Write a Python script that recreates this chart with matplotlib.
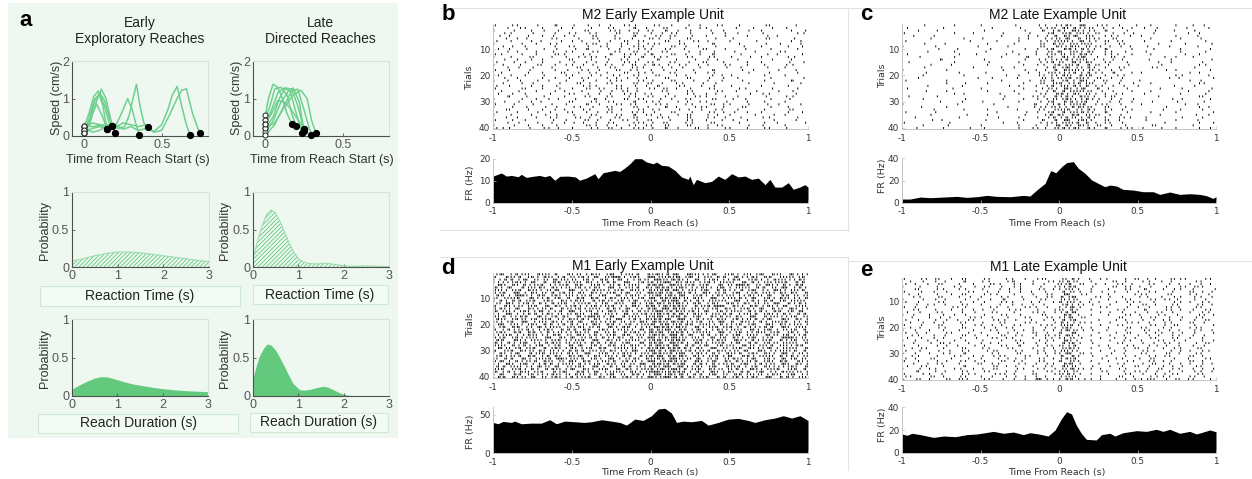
import numpy as np
import matplotlib
matplotlib.use('Agg')
import matplotlib.pyplot as plt
from matplotlib.patches import Rectangle
from matplotlib.lines import Line2D

# ---------------- data ----------------
# panel a : example speed traces (time s, speed cm/s)
early_t = [
    [0, 0.03, 0.06, 0.09, 0.12, 0.146],
    [0, 0.03, 0.06, 0.10, 0.13, 0.16, 0.18],
    [0, 0.04, 0.08, 0.11, 0.14, 0.17, 0.196],
    [0, 0.05, 0.10, 0.15, 0.20, 0.24, 0.28, 0.31, 0.335, 0.354],
    [0, 0.06, 0.12, 0.18, 0.22, 0.26, 0.29, 0.315, 0.337, 0.36, 0.385, 0.41],
    [0, 0.05, 0.10, 0.15, 0.20, 0.25, 0.30, 0.35, 0.40, 0.45, 0.50, 0.54, 0.57, 0.60, 0.63, 0.66, 0.685],
    [0, 0.05, 0.10, 0.15, 0.20, 0.25, 0.30, 0.35, 0.40, 0.45, 0.50, 0.55, 0.60, 0.63, 0.66, 0.70, 0.746],
    [0, 0.04, 0.07, 0.10, 0.13, 0.16, 0.18],
    [0, 0.04, 0.08, 0.12, 0.146],
]
early_s = [
    [0.25, 0.60, 1.05, 1.20, 0.80, 0.18],
    [0.17, 0.45, 0.90, 1.15, 0.95, 0.50, 0.26],
    [0.08, 0.40, 0.95, 1.25, 1.00, 0.45, 0.08],
    [0.17, 0.35, 0.30, 0.20, 0.25, 0.60, 1.00, 0.70, 0.30, 0.04],
    [0.26, 0.25, 0.30, 0.28, 0.20, 0.25, 0.55, 1.00, 1.38, 0.80, 0.35, 0.23],
    [0.08, 0.20, 0.25, 0.20, 0.30, 0.18, 0.25, 0.15, 0.20, 0.12, 0.30, 0.70, 1.10, 1.32, 0.80, 0.30, 0.02],
    [0.26, 0.10, 0.15, 0.30, 0.22, 0.35, 0.30, 0.25, 0.30, 0.10, 0.15, 0.55, 1.00, 1.22, 1.26, 0.60, 0.07],
    [0.17, 0.50, 1.00, 1.12, 0.80, 0.35, 0.26],
    [0.08, 0.50, 0.85, 0.50, 0.18],
]
late_t = [
    [0, 0.02, 0.05, 0.08, 0.11, 0.14, 0.17],
    [0, 0.03, 0.06, 0.10, 0.14, 0.17, 0.20],
    [0, 0.04, 0.08, 0.12, 0.16, 0.20, 0.237],
    [0, 0.05, 0.09, 0.13, 0.17, 0.21, 0.248],
    [0, 0.05, 0.10, 0.15, 0.18, 0.22, 0.25],
    [0, 0.06, 0.12, 0.17, 0.21, 0.25, 0.296],
    [0, 0.06, 0.12, 0.18, 0.23, 0.27, 0.30, 0.328],
    [0, 0.04, 0.08, 0.12, 0.16, 0.20, 0.25],
]
late_s = [
    [0.55, 1.00, 1.38, 1.30, 1.00, 0.60, 0.33],
    [0.44, 0.80, 1.25, 1.30, 1.10, 0.60, 0.27],
    [0.33, 0.70, 1.15, 1.28, 1.20, 0.60, 0.09],
    [0.22, 0.50, 1.00, 1.28, 1.25, 0.80, 0.20],
    [0.11, 0.40, 0.90, 1.20, 1.28, 0.90, 0.13],
    [0.02, 0.30, 0.80, 1.20, 1.25, 0.70, 0.04],
    [0.22, 0.35, 0.75, 1.10, 1.22, 1.00, 0.40, 0.07],
    [0.33, 0.60, 0.95, 0.90, 0.75, 0.50, 0.20],
]

# panel a : distributions
rt_early_x = [0, 0.25, 0.5, 0.75, 1, 1.25, 1.5, 1.75, 2, 2.25, 2.5, 2.75, 3]
rt_early_y = [0.08, 0.11, 0.15, 0.18, 0.20, 0.20, 0.19, 0.17, 0.15, 0.13, 0.11, 0.09, 0.07]
rt_late_x = [0, 0.1, 0.2, 0.3, 0.4, 0.5, 0.6, 0.7, 0.8, 0.9, 1.0, 1.1, 1.2, 1.4, 1.6, 1.8, 2.0, 2.2, 2.5, 3.0]
rt_late_y = [0.10, 0.35, 0.55, 0.70, 0.76, 0.72, 0.60, 0.46, 0.32, 0.20, 0.11, 0.07, 0.05, 0.04, 0.05, 0.035, 0.015, 0.01, 0.015, 0.005]
dur_early_x = [0, 0.15, 0.32, 0.5, 0.65, 0.8, 0.98, 1.15, 1.35, 1.6, 1.8, 2.0, 2.24, 2.6, 3.0]
dur_early_y = [0.08, 0.13, 0.18, 0.225, 0.245, 0.24, 0.21, 0.18, 0.15, 0.125, 0.105, 0.09, 0.075, 0.06, 0.05]
dur_late_x = [0, 0.08, 0.15, 0.25, 0.33, 0.42, 0.52, 0.62, 0.7, 0.8, 0.89, 1.04, 1.15, 1.26, 1.4, 1.55, 1.65, 1.77, 1.9, 1.99, 2.1, 2.2, 3.0]
dur_late_y = [0.20, 0.38, 0.51, 0.62, 0.67, 0.65, 0.58, 0.47, 0.38, 0.26, 0.16, 0.074, 0.07, 0.08, 0.10, 0.12, 0.11, 0.08, 0.04, 0.02, 0.005, 0, 0]

# PSTH (time s, firing rate Hz)
psth_b_t = [-1, -0.947, -0.915, -0.883, -0.84, -0.82, -0.789, -0.746, -0.704, -0.672, -0.64, -0.608, -0.576, -0.523, -0.477, -0.45, -0.407, -0.354, -0.333, -0.301, -0.227, -0.195, -0.163, -0.131, -0.1, -0.057, -0.025, 0.017, 0.038, 0.07, 0.112, 0.155, 0.197, 0.239, 0.25, 0.271, 0.292, 0.345, 0.388, 0.43, 0.472, 0.515, 0.557, 0.6, 0.642, 0.684, 0.727, 0.758, 0.79, 0.833, 0.875, 0.906, 0.948, 0.98, 1.0]
psth_b_v = [12.1, 13.5, 12.1, 12.4, 11.8, 12.9, 11.5, 12.0, 12.4, 11.8, 12.4, 10.2, 12.0, 12.1, 11.7, 10.2, 11.2, 13.2, 10.9, 13.6, 14.7, 14.2, 15.8, 17.7, 20.0, 20.0, 18.5, 17.7, 18.5, 17.0, 16.7, 14.7, 11.7, 10.6, 12.1, 8.2, 10.6, 9.1, 9.7, 12.1, 10.6, 13.2, 11.7, 12.1, 10.6, 11.2, 8.2, 10.6, 7.1, 7.1, 9.1, 6.1, 7.1, 8.2, 7.1]
psth_c_t = [-1, -0.947, -0.883, -0.82, -0.735, -0.65, -0.587, -0.523, -0.46, -0.396, -0.31, -0.227, -0.185, -0.142, -0.089, -0.053, -0.02, 0.017, 0.049, 0.091, 0.123, 0.165, 0.208, 0.25, 0.292, 0.324, 0.366, 0.408, 0.472, 0.536, 0.6, 0.642, 0.705, 0.769, 0.833, 0.896, 0.939, 0.98, 1.0]
psth_c_v = [3.3, 3.3, 5.1, 4.5, 5.1, 5.7, 4.8, 5.4, 6.6, 5.7, 5.4, 6.6, 6.0, 11.4, 17.4, 28.9, 27.0, 32.5, 36.1, 37.0, 31.0, 26.5, 20.5, 17.4, 14.4, 15.9, 15.0, 12.0, 11.4, 9.9, 9.9, 7.5, 9.6, 7.5, 8.1, 7.5, 6.3, 3.9, 5.4]
psth_d_t = [-1, -0.968, -0.936, -0.883, -0.862, -0.82, -0.757, -0.693, -0.64, -0.598, -0.545, -0.481, -0.418, -0.375, -0.31, -0.248, -0.195, -0.153, -0.1, -0.047, 0.006, 0.049, 0.091, 0.133, 0.165, 0.208, 0.26, 0.324, 0.366, 0.43, 0.494, 0.557, 0.62, 0.663, 0.726, 0.79, 0.843, 0.896, 0.949, 1.0]
psth_d_v = [40.0, 38.3, 41.3, 40.0, 41.7, 38.3, 39.1, 39.1, 43.5, 38.3, 41.7, 40.9, 40.0, 40.9, 43.5, 41.7, 40.0, 36.5, 44.3, 42.6, 48.7, 57.4, 58.3, 52.2, 40.0, 41.7, 40.9, 42.6, 36.5, 40.0, 44.3, 45.2, 42.6, 40.0, 43.5, 45.7, 48.7, 45.7, 48.7, 42.6]
psth_e_t = [-1, -0.968, -0.936, -0.883, -0.8, -0.735, -0.66, -0.587, -0.523, -0.47, -0.418, -0.354, -0.29, -0.227, -0.185, -0.13, -0.07, -0.025, 0.017, 0.049, 0.08, 0.11, 0.142, 0.174, 0.237, 0.271, 0.324, 0.356, 0.408, 0.494, 0.557, 0.62, 0.663, 0.705, 0.769, 0.833, 0.875, 0.918, 0.96, 1.0]
psth_e_v = [16.5, 15.3, 17.1, 15.9, 13.5, 14.7, 14.1, 15.9, 16.5, 17.6, 18.8, 17.1, 18.2, 15.9, 17.6, 16.5, 14.7, 20.0, 30.3, 36.2, 34.1, 24.4, 17.1, 11.8, 11.2, 15.9, 17.1, 14.7, 17.6, 19.4, 18.8, 20.6, 18.8, 20.6, 17.1, 18.8, 16.5, 18.2, 20.0, 18.5]

# Spike rasters: one string per trial; each character is a 50 ms segment
# (base-32 digit = bit mask of spikes in five 10 ms sub-bins), groups of 10 segments.
raster_b = [
    "2041080g10 2014g08210 4180g02041 0200810040",
    "0g04102080 1040820g14 0810402100 g001040200",
    "1080g04020 0810g41248 2g14010802 0040100g08",
    "0420010g08 4021081g20 1482010g04 0100200084",
    "g010402801 2081040g12 8241020104 0020g01000",
    "0801200410 g08204180g 2140810020 4000810020",
    "4020g01080 1204g08141 0g28041200 1004000g01",
    "1008040210 0g81402148 4108200g10 0200804001",
    "0240100g08 2018402g41 2081401020 0g00100402",
    "8010204010 4g10801242 1g40208104 0010020080",
    "0g01040802 1082041g28 0410g02010 8002004100",
    "2108040g21 0420g18412 3081402g10 0400g01002",
    "1020810402 g8412082g1 4210820410 2080100420",
    "0401g02008 1040802140 g102080240 0100040g00",
    "4080102040 2g01408218 2041g08102 0020100804",
    "1204081g02 1480214812 6128401204 1020400210",
    "0g02010400 8102g40821 0480102008 0400g00100",
    "2010800g04 0214081420 1802040g10 0801002040",
    "0100402081 g021408142 2041080210 0040010080",
    "8020104002 1048021g40 8102400g01 2000400100",
    "0401002g08 0210480124 0g20810402 0100020004",
    "1g04080102 0401g82041 2081040201 0800400g10",
    "0208010040 8120410g28 1402108020 0040080001",
    "4010g02010 0421082014 g108204010 2000100400",
    "2008102040 1g2418212g 4812010410 0210040080",
    "0102040g01 0208014120 0410820041 g004002010",
    "8040100208 2014g08412 1020840120 0080210040",
    "0g10204001 0820410218 2g01082104 0100800210",
    "1008040120 40g1208141 0280410g20 4010020800",
    "0402g01008 1041820g14 2104802108 0020400100",
    "2080010402 0g14082410 8210420812 1040g02001",
    "1040208010 2180410g28 0g12084102 0810020400",
    "0810402g01 0420812041 2108g04021 0100400810",
    "4001080204 1g02410821 4081020412 8020100402",
    "1020g08010 2041082g14 1204810240 1002080100",
    "0801040210 4128041g20 g420810214 0400210080",
    "2040100802 0812g04128 1040820101 4020080040",
    "0g02080401 2401820g41 2810420810 0200401008",
    "1080402010 0g21480214 1g20810241 0040200100",
    "4210804120 1042812g41 2g14081204 1020410200",
]
raster_c = [
    "00g0008000 1000400428 i5o3g4180g 0800g00140",
    "8000020000 0400010845 ch9i28g012 g040002001",
    "0010400000 4000080g1i 9o5h4g1080 0020800200",
    "2000008001 00g0002083 k6a981g024 0010004g00",
    "0400100000 008000124c oi3k2g8401 4000g00800",
    "0008000g00 2000g01029 h3ck41g200 0800040010",
    "4000000080 0010g0084k a9oh8g2410 g000200080",
    "00g0040000 g000200816 5kia1g0820 0080001004",
    "1000200008 000400081o ic5k824g01 0200100800",
    "0000800100 0200080243 o6h94g1002 0010040002",
    "0002008000 800010018h 3kio2g8040 0100040080",
    "8000000204 0002g00145 ako61g8402 0800001g00",
    "0020008000 00800g1081 chk3g08120 0004g00100",
    "0000g10000 4000080429 i9a548g010 0400200004",
    "g000008000 0100g00843 5o9c1g4080 0080200020",
    "0008002000 g00004021k ha6o8120g0 0001000g80",
    "00g0000001 0080200046 k3io4g0820 0g40000200",
    "1000080000 00g008012c oa5h218g00 0008g00002",
    "0001000200 8000001485 9iho84g102 4000008g00",
    "0080000g00 0002g00419 c5ok1g0420 0000g80001",
    "0010000008 0400800g2h i6a9g28010 0000120008",
    "4000080000 0080002813 kho5481g00 2000008010",
    "0000080010 g00004081a 3ick2g0804 0800000g40",
    "0002000800 0008g00143 ah9c84g020 1000800200",
    "8000004000 1000040g89 o5i3g12080 00g0080004",
    "0001080000 g000200146 cka914g002 0800004001",
    "0000008g00 0040g0082o 6h5k8g0210 g000040080",
    "g000400000 000100821c i9oa4g8100 0080000g20",
    "0080000010 00g004024a k5hc218g04 0000480002",
    "0000g00800 2000g00883 oci6g04802 0g00010040",
    "1000000100 080000g14i 9ka3841g00 4000001800",
    "0040080000 000400g825 hoc91g2040 0008000g01",
    "0000100g00 g00080041k a3io4g8012 0002040020",
    "4000200000 00100g0283 cki92g1080 0800g00008",
    "0008000020 g0000800ih 5o6k814g00 00g0000401",
    "0800000200 0020g00286 i9ho4g0821 0100080020",
    "000g010000 8000040g1c o3k51g2800 0100g00800",
    "2000001000 00g0800849 ka6c8g4010 0004000g08",
    "00800g0000 1000g0014o h5c9g28040 0g20000100",
    "0g00020080 4000g0822k ci5o4g1g82 8001g00g02",
]
raster_d = [
    "k3i95oah1c 9hc5k3ia6o q5j7ob9i3k 6hak3c5o9i",
    "3oa6k9c5ih i6h3av9k5o 7lmek3hac6 o9i5c3kah6",
    "hc6i3ako95 5k9o6i3hca sbpd9ohk5i c3k6hoa9i5",
    "9ik5h3co6a ah5ic6o3k9 jq7mc5i6ha 5oh9kia3c6",
    "o5ch9a3ik6 c3k6hi9a5o e7slk6a3oh iv6ko5h9c3",
    "6h3oki5c9a k9i5o3ha6c pdbq5ic9k3 ha5c6ko3i9",
    "a9k6c5hi3o 3ioa9k6c5h lmj7hak3c6 9ck3io5ha6",
    "i6o3h5ack9 h5c9k6i3ao b7dsi9o5a6 k3i6a9ch5o",
    "c3hvio6k5a 9a6k3ohc5i qjep3k6hc9 5ic9h3o6ak",
    "5ka3o9ih6c o6c3i5a9kh 7mlbac5o3i a6h3k9c5io",
    "h9c6a3k5oi c5ok9h6i3a dsq76h9ka5 o3i9c6kha5",
    "ko5i6h9ca3 ia3h6c5o9k jbme9c3i5o 6h5ako3ci9",
    "3c9ak6oh5i 6hk9a3io5c 7pld5ok6v3 c9o6i5h3ka",
    "i5h3c9a6ok k9a5c6h3io esjb3a9i6c 9k6h3cao5i",
    "6a9k5i3hco 3h6io5k9ca q7dmi6h3k9 a5ci9o6kh3",
    "9o3hc6i5ak c5k3a9ohi6 lbjp9c5ha6 3ia6k5h9oc",
    "a6ic3o9kh5 o9v6h3ca5k m7qe6k3oi9 h5o3ca9i6k",
    "c5k9h6a3io a6h5ko3i9c dj7s3h9ac5 k9a6i3o5ch",
    "5h6o3iac9k h3c9i6ako5 ebpl9i6ko3 6c5h9ka3io",
    "o3a9k5c6ih 9ko5c3h6ia 7mjqc3a5h9 i6k3o5c9ah",
    "h6c3io9a5k i5a6o9c3hk sdbe5o9k6a 3h9ic6o5ka",
    "3i9a6hk5oc 6c3k5ia9oh jl7p6i3hc9 a5o9k3hi6c",
    "k5o6c3h9ai c9h3a6ok5i b7qm9ka5o3 h6ic5a3k9o",
    "9a3hc5io6k o5i9k6c3ah edsjh3c6i9 k3a5o9h6ic",
    "i6k9a5o3ch 3a6h9i5cko 7lpb5a9oh6 c9k3i6ov5a",
    "c3o5ha9k6i k6o3c9ha5i mjqe3k6ic5 o5h9a3ci6k",
    "6h9k3ioc5a a9c6i5k3oh d7sl9o5ha3 i3c6k9ha5o",
    "a5ci9k3h6o h3k9o6ac5i pbj7c6i3k9 5o9ha6kic3",
    "o9h6a3ck5i 5i6c3ka9ho qemd6h5o3a k6c9i3ha5o",
    "3k6c9h5aio c6a9h5io3k 7jslk9a6c5 9h3o5ika6c",
    "h5i3ok6a9c 9o3k6ic5ha ebdq3i5h9o a6k5c9o3hi",
    "k9a6c3ih5o i3h5a9c6ok j7mp5c9k6i 3o6ha5ci9k",
    "5c6o9ka3vi a6k9o3hi5c ldsb9h3a6k c5i3k9oh6a",
    "i3h9a6c5ko 5c3ia6k9ho 7qej6o5i3c h9a6k5c3oi",
    "9o5k3hc6ia h9i6c5ako3 mbjl3c6h9a 6k3i9ao5ch",
    "c6a5io9h3k k5o3h9c6ai dp7s9i5k3o a3h6c9ik5o",
    "a3k6h9oc5i 3c9k6oh5ia jeqb6a3c9h i9o5ha3k6c",
    "6i9c5a3ok3 o6h3ia5c9k vlmd3h9o5i 5c6k3ioa9h",
    "h3o6k9ic5a c5i9k3ao6h sjep9c6k3a o6a9hc5k3i",
    "o6c9h3ak5i 9a3ch6k5io bq7jh5a3c6 k9i5o3c6ha",
]
raster_e = [
    "2041a02810 4102180i20 ko4g021048 1220a41082",
    "0180240g10 2104308082 5j2010g240 8401200410",
    "4802810201 0a4021801g i6818g0412 0410128012",
    "1020408402 4180210804 9m1020g241 2808041a20",
    "0810420210 2048010412 ha40102041 g10284010g",
    "2040180041 g028014020 ck80140180 1420408124",
    "g010402810 4210208041 o3g4002008 410g208401",
    "0420810280 1084020141 6q10824010 2201840214",
    "1080240018 02g1040820 ai20102041 0824110280",
    "4010820401 4082104402 3l8g010284 2010848021",
    "0g02140820 1040128010 k941204001 8120410824",
    "2801004110 0214082140 hs80021080 1408220410",
    "0410202801 2808410204 5c20100420 g108240182",
    "8020410802 0410208214 ip10024018 0241408021",
    "1404028010 4082010g20 o640102041 2084010g48",
    "0204g01082 1404082041 9eg2000810 4820180420",
    "4010280141 0821404012 ck10010240 8012140281",
    "0180120410 2041082104 6h82104082 1404208140",
    "2040810802 1480210841 ad40020410 0824810208",
    "0120840810 4g02108024 k5g0102081 4102208410",
    "1804020201 0210248012 ij21201040 g480120214",
    "4g01082040 1024808140 3o10010281 0121480208",
    "0210140812 g0814201a4 hb40104020 1480420140",
    "8040120404 0412108021 9kg0020148 0820418020",
    "1802408010 2080410442 o520104021 4082801028",
    "0408g21040 1220840120 cq80200410 8014120481",
    "2010480102 4082g10241 5i10012084 0448020140",
    "0241020810 2104108012 km40104028 1202840810",
    "4020801840 g810420214 a920020140 8210248021",
    "1804021g10 0420810224 h781108020 4108120410",
    "0210408401 2841082040 6o40201048 0424108120",
    "4808102040 1024480412 il10040210 2810804082",
    "2010480412 4081220410 3k40102084 0412208120",
    "0402410208 1420g80142 oe80010420 8g20148024",
    "8041020g10 0812408021 c910204018 1402480410",
    "1024208401 2810840214 ks41120840 0281420128",
    "0g10240820 4102408041 9h20041028 2140180214",
    "2084010842 0g41208104 5j80102041 8024410820",
    "4108120410 1402480120 ia10020814 0842108240",
    "1g24081a20 41g0280f42 hd42120248 4a18g24102",
]

# ---------------- figure ----------------
W, H = 1252, 479
fig = plt.figure(figsize=(W / 100, H / 100), dpi=100)
fig.patch.set_facecolor('white')
plt.rcParams['hatch.linewidth'] = 0.6

SANS = 'Liberation Sans'
BG_A = '#eef8f1'
GREEN_LINE = '#6fd08e'
GREEN_FILL = '#62c97d'
LIGHT_EDGE = '#d3e6d8'


def px_axes(x0, y0, x1, y1):
    return fig.add_axes([x0 / W, 1 - y1 / H, (x1 - x0) / W, (y1 - y0) / H])


def ftext(x, y, s, **kw):
    kw.setdefault('ha', 'center')
    kw.setdefault('va', 'center')
    return fig.text(x / W, 1 - y / H, s, **kw)


def fline(x0, y0, x1, y1, color='#e2e2e2', lw=0.8):
    fig.add_artist(Line2D([x0 / W, x1 / W], [1 - y0 / H, 1 - y1 / H], color=color, lw=lw))


def frect(x0, y0, x1, y1, fc, ec, lw=0.8, z=0):
    r = Rectangle((x0 / W, 1 - y1 / H), (x1 - x0) / W, (y1 - y0) / H,
                  transform=fig.transFigure, facecolor=fc, edgecolor=ec, lw=lw, zorder=z)
    fig.add_artist(r)


# panel a background
frect(8, 3, 398, 438, BG_A, 'none', lw=0, z=-10)

# separator lines for b-e
fline(440, 8, 1252, 8)
fline(848, 8, 848, 230)
fline(440, 230, 848, 230)
fline(440, 257, 848, 257)
fline(848, 257, 848, 470)
fline(848, 261, 1252, 261)


def style_a(ax):
    ax.set_facecolor('none')
    for s in ('left', 'bottom'):
        ax.spines[s].set_color('#505050')
        ax.spines[s].set_linewidth(0.8)
    for s in ('top', 'right'):
        ax.spines[s].set_color(LIGHT_EDGE)
        ax.spines[s].set_linewidth(0.8)
    ax.tick_params(direction='in', length=2.5, width=0.6, colors='#505050',
                   labelsize=9, pad=2, labelcolor='#555555')
    for lab in ax.get_xticklabels() + ax.get_yticklabels():
        lab.set_family(SANS)


# speed axes
for (x0, x1), ts, ss in (((72, 208), early_t, early_s), ((253, 389), late_t, late_s)):
    ax = px_axes(x0, 61, x1, 136)
    for t, s in zip(ts, ss):
        ax.plot(t, s, color=GREEN_LINE, lw=1.1, zorder=2)
    for t, s in zip(ts, ss):
        ax.plot(t[0], s[0], 'o', ms=3.6, mfc='white', mec='#222222', mew=0.7, zorder=3, clip_on=False)
        ax.plot(t[-1], s[-1], 'o', ms=4.2, mfc='black', mec='black', zorder=4, clip_on=False)
    ax.set_xlim(-0.08, 0.8)
    ax.set_ylim(0, 2)
    ax.set_xticks([0, 0.5])
    ax.set_xticklabels(['0', '0.5'])
    ax.set_yticks([0, 1, 2])
    ax.set_yticklabels(['0', '1', '2'])
    style_a(ax)

# distribution axes
dist_specs = [
    ((72, 192, 209, 267), rt_early_x, rt_early_y, True),
    ((253, 192, 389, 267), rt_late_x, rt_late_y, True),
    ((72, 319, 208, 396), dur_early_x, dur_early_y, False),
    ((253, 319, 389, 396), dur_late_x, dur_late_y, False),
]
for (x0, y0, x1, y1), xs, ys, hatched in dist_specs:
    ax = px_axes(x0, y0, x1, y1)
    if hatched:
        ax.fill_between(xs, ys, 0, facecolor='none', edgecolor=GREEN_FILL,
                        hatch='////////', lw=0)
        ax.plot(xs, ys, color='#9edcb0', lw=0.8)
    else:
        ax.fill_between(xs, ys, 0, facecolor=GREEN_FILL, edgecolor='none', lw=0)
    ax.set_xlim(0, 3)
    ax.set_ylim(0, 1)
    ax.set_xticks([0, 1, 2, 3])
    ax.set_yticks([0, 0.5, 1])
    ax.set_yticklabels(['0', '0.5', '1'])
    style_a(ax)

# panel a texts
ftext(26, 21, 'a', family=SANS, fontsize=16, fontweight='bold')
ftext(140, 23, 'Early', family=SANS, fontsize=10, color='#222222')
ftext(140, 39, 'Exploratory Reaches', family=SANS, fontsize=10, color='#222222')
ftext(320, 23, 'Late', family=SANS, fontsize=10, color='#222222')
ftext(320, 39, 'Directed Reaches', family=SANS, fontsize=10, color='#222222')
for x in (57, 237):
    ftext(x, 98, 'Speed (cm/s)', family=SANS, fontsize=9, rotation=90, color='#333333')
ftext(138, 160, 'Time from Reach Start (s)', family=SANS, fontsize=9, color='#333333')
ftext(322, 160, 'Time from Reach Start (s)', family=SANS, fontsize=9, color='#333333')
for x, y in ((45, 230), (225, 230), (45, 358), (225, 358)):
    ftext(x, y, 'Probability', family=SANS, fontsize=9, rotation=90, color='#333333')
frect(40, 286, 240, 306, '#f3fbf5', '#cfe8d6')
frect(253, 285, 388, 304, '#f3fbf5', '#cfe8d6')
frect(38, 414, 238, 433, '#f3fbf5', '#cfe8d6')
frect(250, 413, 388, 432, '#f3fbf5', '#cfe8d6')
ftext(140, 296, 'Reaction Time (s)', family=SANS, fontsize=10, color='#222222')
ftext(320, 295, 'Reaction Time (s)', family=SANS, fontsize=10, color='#222222')
ftext(138, 423, 'Reach Duration (s)', family=SANS, fontsize=10, color='#222222')
ftext(319, 422, 'Reach Duration (s)', family=SANS, fontsize=10, color='#222222')

# ---------------- rasters & PSTHs ----------------
B32 = '0123456789abcdefghijklmnopqrstuv'


def decode(rows):
    xs, ys = [], []
    for i, row in enumerate(rows):
        for g, grp in enumerate(row.split()):
            for k, ch in enumerate(grp[:10]):
                m = B32.index(ch)
                seg = g * 10 + k
                for b in range(5):
                    if (m >> b) & 1:
                        xs.append(-1 + seg * 0.05 + (b + 0.5) * 0.01)
                        ys.append(i + 1)
    return np.array(xs), np.array(ys)


TICKFS = 6.4


def style_be(ax):
    ax.set_facecolor('none')
    for s in ('top', 'right'):
        ax.spines[s].set_visible(False)
    for s in ('left', 'bottom'):
        ax.spines[s].set_color('#c4c4c4')
        ax.spines[s].set_linewidth(0.7)
    ax.tick_params(direction='in', length=2, width=0.5, colors='#c4c4c4',
                   labelsize=TICKFS, labelcolor='#333333')
    ax.tick_params(axis='x', pad=3.2)
    ax.tick_params(axis='y', pad=2.0)
    ax.set_xlim(-1, 1)
    ax.set_xticks([-1, -0.5, 0, 0.5, 1])
    ax.set_xticklabels(['-1', '-0.5', '0', '0.5', '1'])


panels = [
    dict(r=(493, 24, 808, 129.3), p=(493, 158.7, 808, 202.7), rows=raster_b, t=psth_b_t, v=psth_b_v,
         ylim=20, yt=[0, 10, 20], title='M2 Early Example Unit', tpos=(653, 15), lpos=(448, 14), letter='b',
         trials=(470, 78), fr=(470, 183), xl=(650, 223)),
    dict(r=(902, 24, 1216, 129.3), p=(902, 158.3, 1216, 202.7), rows=raster_c, t=psth_c_t, v=psth_c_v,
         ylim=40, yt=[0, 20, 40], title='M2 Late Example Unit', tpos=(1058, 15), lpos=(866, 15), letter='c',
         trials=(883, 76), fr=(883, 176), xl=(1057, 223)),
    dict(r=(493, 273, 808, 378.3), p=(493, 407, 808, 453.3), rows=raster_d, t=psth_d_t, v=psth_d_v,
         ylim=60, yt=[0, 50], title='M1 Early Example Unit', tpos=(643, 266), lpos=(448, 269), letter='d',
         trials=(471, 325), fr=(471, 432), xl=(650, 472)),
    dict(r=(902, 277.6, 1216, 380.3), p=(902, 407.3, 1216, 452.7), rows=raster_e, t=psth_e_t, v=psth_e_v,
         ylim=40, yt=[0, 20, 40], title='M1 Late Example Unit', tpos=(1058, 267), lpos=(866, 271), letter='e',
         trials=(883, 328), fr=(883, 425), xl=(1057, 472)),
]

for P in panels:
    x0, y0, x1, y1 = P['r']
    ax = px_axes(x0, y0, x1, y1)
    xs, ys = decode(P['rows'])
    ax.vlines(xs, ys - 0.38, ys + 0.38, color='black', lw=0.7, snap=False, antialiased=True)
    ax.set_ylim(40.5, 0.5)
    ax.set_yticks([10, 20, 30, 40])
    style_be(ax)

    x0, y0, x1, y1 = P['p']
    ax = px_axes(x0, y0, x1, y1)
    ax.fill_between(P['t'], P['v'], 0, color='black', lw=0)
    ax.set_ylim(0, P['ylim'])
    ax.set_yticks(P['yt'])
    style_be(ax)

    ftext(*P['tpos'], P['title'], family=SANS, fontsize=10, color='#111111')
    ftext(*P['lpos'], P['letter'], family=SANS, fontsize=16, fontweight='bold')
    ftext(*P['trials'], 'Trials', fontsize=6.8, rotation=90, color='#333333')
    ftext(*P['fr'], 'FR (Hz)', fontsize=6.8, rotation=90, color='#333333')
    ftext(*P['xl'], 'Time From Reach (s)', fontsize=6.8, color='#333333')

fig.savefig('out.png', dpi=100)
